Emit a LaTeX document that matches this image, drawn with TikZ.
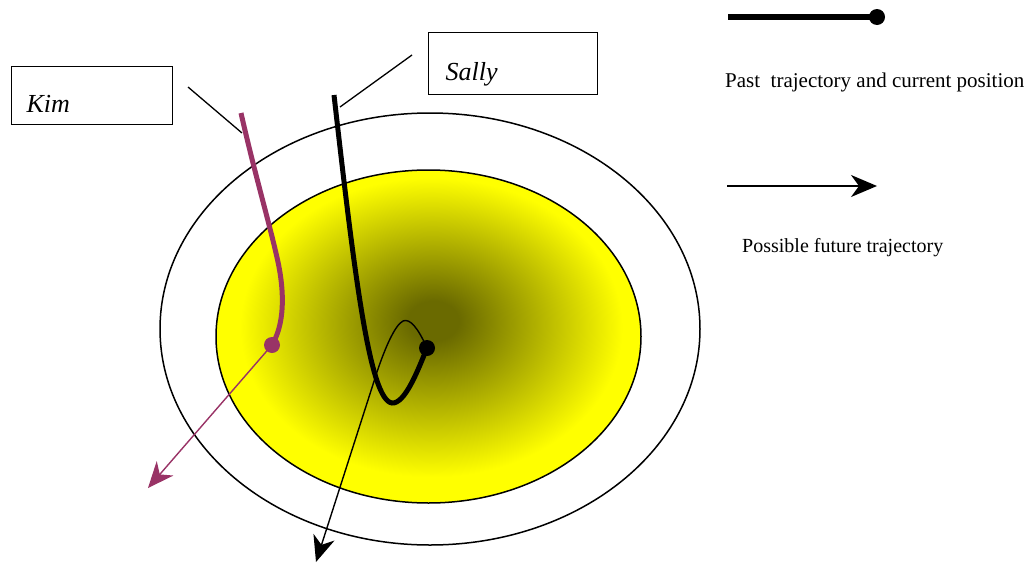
\documentclass[tikz,border=0pt]{standalone}
\usepackage{fontspec}
\setmainfont{Liberation Serif}
\usepackage{tikz}
\usetikzlibrary{arrows.meta,positioning,calc}

\definecolor{kimcolor}{RGB}{153,51,102}
\definecolor{goaldark}{RGB}{106,106,0}
\pgfdeclareradialshading{goalshade}{\pgfpoint{0.6bp}{2.5bp}}{%
  color(0bp)=(goaldark); color(3bp)=(goaldark); color(22.5bp)=(yellow); color(25bp)=(yellow); color(50bp)=(yellow)}

\begin{document}
\begin{tikzpicture}[
    x=1pt, y=-1pt,
    namebox/.style={draw, line width=1.2pt, inner sep=0pt, align=left, font=\itshape\fontsize{26}{26}\selectfont},
    pastpath/.style={line width=5pt},
    futurepath/.style={line width=1.4pt, -{Stealth[length=26pt, width=22pt, inset=8pt]}},
    legendtext/.style={anchor=base west, inner sep=0pt, font=\fontsize{20}{20}\selectfont},
    posdot/.style={circle, fill, inner sep=0pt, minimum size=16pt}
]
\useasboundingbox (0,0) rectangle (1034,565);

% regions
\draw[line width=1.5pt] (430,329) ellipse [x radius=270, y radius=216];
\path[shading=goalshade, draw=black, line width=1.5pt] (428.5,336.5) ellipse [x radius=212.5, y radius=166.5];

% name boxes
\node[namebox, anchor=north west, text width=131pt, inner xsep=15pt, text height=46pt, text depth=12pt] (kim) at (11,66) {Kim};
\node[namebox, anchor=north west, text width=135pt, inner xsep=17pt, text height=48pt, text depth=14pt] (sally) at (428,32) {Sally};

\coordinate (kimlead) at (188,87);
\coordinate (kimstart) at (242,133);
\coordinate (sallylead) at (412,55);
\coordinate (sallystart) at (340,107);
\draw[line width=1.3pt] (kimlead) -- (kimstart);
\draw[line width=1.3pt] (sallylead) -- (sallystart);

% Kim
\node[posdot, kimcolor] (kimpos) at (272,345) {};
\coordinate (kimgoal) at (148,488);
\draw[pastpath, kimcolor] (241,113) .. controls (255,175) and (270,225) .. (278,262)
    .. controls (285,295) and (284,325) .. (kimpos.center);
\draw[futurepath, kimcolor] (kimpos.center) -- (kimgoal);

% Sally
\node[posdot] (sallypos) at (427,348) {};
\coordinate (sallygoal) at (316,562);
\draw[pastpath] (334,95) .. controls (355,280) and (370,400) .. (392,403)
    .. controls (405,404) and (418,370) .. (sallypos.center);
\draw[futurepath] (sallypos.center) .. controls (418,328) and (410,318) .. (403,321)
    .. controls (395,325) and (385,348) .. (377,372) -- (sallygoal);

% legend
\node[posdot, minimum size=16pt] (pastend) at (877,17) {};
\coordinate (paststart) at (728,17);
\draw[line width=5.5pt] (paststart) -- (pastend.center);
\node[legendtext, font=\fontsize{21}{21}\selectfont] (pastlabel) at (725,87) {Past\ \ trajectory and current position};
\coordinate (futurestart) at (727,186);
\coordinate (futureend) at (877,186);
\draw[futurepath] (futurestart) -- (futureend);
\node[legendtext] (futurelabel) at (742,252) {Possible future trajectory};

\end{tikzpicture}
\end{document}
